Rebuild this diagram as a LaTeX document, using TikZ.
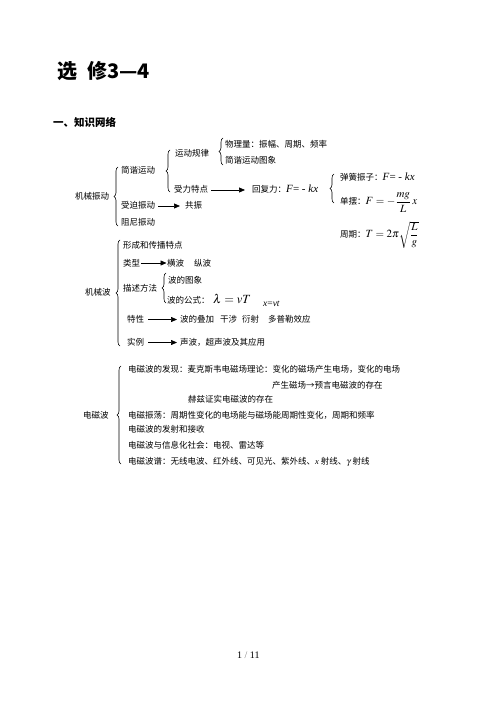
\documentclass[tikz,border=0pt]{standalone}
\usepackage{amsmath}
\usepackage{mathptmx}
\usepackage[no-math]{fontspec}
\setmainfont{Liberation Serif}
\newfontfamily\cjk{Noto Sans CJK SC}
\usetikzlibrary{arrows.meta,decorations.pathreplacing,calc}
\tikzset{
  txt/.style={inner sep=0pt, anchor=base west, font=\cjk\fontsize{8.5}{10}\selectfont},
  arr/.style={-{Triangle[length=6pt,width=5pt]}, line width=0.7pt},
  br/.style={decorate, decoration={brace,amplitude=4pt}, line width=0.6pt},
}
\newcommand\fm[1]{{\rmfamily\fontsize{11}{13}\selectfont #1}}
\begin{document}
\begin{tikzpicture}[x=1pt,y=-1pt]
\useasboundingbox (0,0) rectangle (502,708);
% title
\node[txt, font=\cjk\bfseries\fontsize{20}{22}\selectfont] (title) at (57,79) {选\hspace{10pt}修3—4};
\node[txt, font=\cjk\bfseries\fontsize{10.5}{12}\selectfont] (sec) at (53,127) {一、知识网络};
% mechanical vibration
\node[txt] (jxzd) at (75,200) {机械振动};
\node[txt] (jyd) at (121,174) {简谐运动};
\node[txt] (spzd) at (121,209) {受迫振动};
\node[txt] (znzd) at (121,226) {阻尼振动};
\node[txt] (ydgl) at (175,157) {运动规律};
\node[txt] (slts) at (174,193) {受力特点};
\node[txt] (wll) at (225,147.5) {物理量：振幅、周期、频率};
\node[txt] (jxtx) at (225,163.5) {简谐运动图象};
\node[txt] (hfl) at (252,193) {回复力：\fm{\textit{F}= - \textit{kx}}};
\node[txt] (gz) at (185,209) {共振};
\node[txt] (thz) at (340,181) {弹簧振子：\fm{\textit{F}= - \textit{kx}}};
\node[txt] (db) at (340,205) {单摆：\fm{$F=-\dfrac{mg}{L}\,x$}};
\node[txt] (zq) at (340,238) {周期：\fm{$T=2\pi\sqrt{\dfrac{L}{g}}$}};
\draw[br] (118,226) -- (118,167);
\draw[br] (170,192) -- (170,150);
\draw[br] (223,165) -- (223,138);
\draw[br] (334,203) -- (334,174);
\draw[arr] ($(slts.base east)+(3,-3)$) -- ($(hfl.base west)+(-7,-3)$);
\draw[arr] ($(spzd.base east)+(3,-3)$) -- ($(gz.base west)+(-5,-3)$);
% mechanical wave
\node[txt] (jxb) at (85,295) {机械波};
\node[txt] (xc) at (123,248) {形成和传播特点};
\node[txt] (lx) at (123,266) {类型};
\node[txt] (hb) at (167,266) {横波\hspace{10pt}纵波};
\node[txt] (msff) at (123,291) {描述方法};
\node[txt] (btx) at (168,283) {波的图象};
\node[txt] (bgs) at (167,303) {波的公式：};
\node[txt, font=\fontsize{12.5}{14}\selectfont] (lam) at (213,303) {$\lambda = vT$};
\node[txt, font=\fontsize{9.5}{11}\selectfont] (xvt) at (263,306) {\textit{x}=\textit{vt}};
\node[txt] (tx) at (127,322.5) {特性};
\node[txt] (ddj) at (180,322.5) {波的叠加\hspace{6pt}干涉\hspace{5pt}衍射\hspace{9pt}多普勒效应};
\node[txt] (sl) at (127,345.5) {实例};
\node[txt] (sb) at (180,345.5) {声波，超声波及其应用};
\draw[br] (120,346) -- (120,240);
\draw[br] (166,303) -- (166,273);
\draw[arr] ($(lx.base east)+(0.5,-3)$) -- ($(hb.base west)+(-0.5,-3)$);
\draw[arr] ($(tx.base east)+(4,-3)$) -- ($(ddj.base west)+(-3,-3)$);
\draw[arr] ($(sl.base east)+(4,-3)$) -- ($(sb.base west)+(-3,-3)$);
% electromagnetic wave
\node[txt] (dcb) at (83,418) {电磁波};
\node[txt] (l1) at (128,372) {电磁波的发现：麦克斯韦电磁场理论：变化的磁场产生电场，变化的电场};
\node[txt] (l2) at (272,388) {产生磁场→预言电磁波的存在};
\node[txt] (l3) at (188,402) {赫兹证实电磁波的存在};
\node[txt] (l4) at (128,418) {电磁振荡：周期性变化的电场能与磁场能周期性变化，周期和频率};
\node[txt] (l5) at (128,432) {电磁波的发射和接收};
\node[txt] (l6) at (128,448) {电磁波与信息化社会：电视、雷达等};
\node[txt] (l7) at (128,464) {电磁波谱：无线电波、红外线、可见光、紫外线、{\rmfamily\textit{x}} 射线、{\fontsize{9}{10}\selectfont$\gamma$} 射线};
\draw[br] (121,464) -- (121,366);
% page number
\node[txt, font=\fontsize{10}{12}\selectfont] (pg) at (237,658) {1 {\color{gray}/} 11};
\end{tikzpicture}
\end{document}
